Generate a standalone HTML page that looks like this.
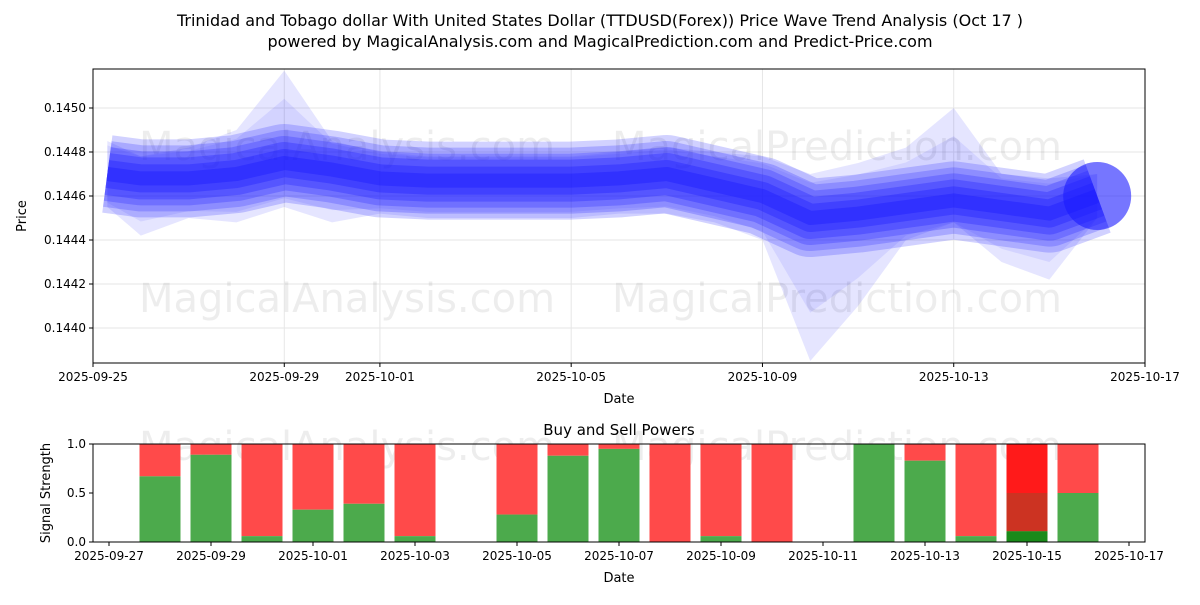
<!DOCTYPE html>
<html><head><meta charset="utf-8"><style>
body{margin:0;background:#fff;font-family:"Liberation Sans","DejaVu Sans",sans-serif}
svg text{font-family:"DejaVu Sans","Liberation Sans",sans-serif}
</style></head><body>
<svg id="c" width="1200" height="600" xmlns="http://www.w3.org/2000/svg">
<text x="600" y="26" text-anchor="middle" font-size="16">Trinidad and Tobago dollar With United States Dollar (TTDUSD(Forex)) Price Wave Trend Analysis (Oct 17 )</text>
<text x="600" y="47" text-anchor="middle" font-size="16">powered by MagicalAnalysis.com and MagicalPrediction.com and Predict-Price.com</text>
<g id="topg"></g><g id="botg"></g>
</svg>
<script>
// ---- top chart data ----
const priceDays=[0.3,1,2,3,4,5,6,7,8,9,10,11,12,13,14,15,16,17,18,19,20,21];
const priceMid=[0.14470,0.14468,0.14468,0.14470,0.14475,0.14472,0.14468,0.14467,0.14467,0.14467,0.14467,0.14468,0.14470,0.14465,0.14460,0.14450,0.14452,0.14455,0.14458,0.14455,0.14452,0.14460];
const priceHi=[0.14485,0.14478,0.14482,0.14490,0.14517,0.14485,0.14480,0.14478,0.14478,0.14478,0.14478,0.14480,0.14482,0.14480,0.14478,0.14470,0.14475,0.14482,0.14500,0.14470,0.14468,0.14470];
const priceLo=[0.14455,0.14442,0.14450,0.14448,0.14455,0.14448,0.14452,0.14450,0.14450,0.14450,0.14450,0.14452,0.14452,0.14448,0.14440,0.14385,0.14410,0.14440,0.14448,0.14430,0.14422,0.14450];
const priceTicks=[0.1440,0.1442,0.1444,0.1446,0.1448,0.1450];
const topXTicks=["2025-09-25","2025-09-29","2025-10-01","2025-10-05","2025-10-09","2025-10-13","2025-10-17"];
const topXTickDays=[0,4,6,10,14,18,22];
// ---- bottom chart data ----
const powDays=[1,2,3,4,5,6,8,9,10,11,12,13,15,16,17,18,19];
const buyPow=[0.67,0.89,0.06,0.33,0.39,0.06,0.28,0.88,0.95,0,0.06,0,1.0,0.83,0.06,0.11,0.5];
const botXTicks=["2025-09-27","2025-09-29","2025-10-01","2025-10-03","2025-10-05","2025-10-07","2025-10-09","2025-10-11","2025-10-13","2025-10-15","2025-10-17"];
const botXTickDays=[0,2,4,6,8,10,12,14,16,18,20];
const sigTicks=[0,0.5,1.0];

const NS="http://www.w3.org/2000/svg";
function mk(p,t,a,txt){const e=document.createElementNS(NS,t);for(const k in a)e.setAttribute(k,a[k]);if(txt!==undefined)e.textContent=txt;p.appendChild(e);return e;}
const topG=document.getElementById('topg'),botG=document.getElementById('botg');
const L=93,R=1145,T=69,B=363;
const xT=d=>L+(R-L)*d/22;
const yT=v=>108+(0.1450-v)*220000;
for(let i=0;i<priceTicks.length;i++){const y=yT(priceTicks[i]);
 const g=mk(topG,'line',{x1:L,x2:R,y1:y,y2:y,stroke:'#e6e6e6'});
 
 mk(topG,'line',{x1:L-4,x2:L,y1:y,y2:y,stroke:'#000'});
 const t=mk(topG,'text',{x:L-7,y:y+4,'text-anchor':'end','font-size':12},priceTicks[i].toFixed(4));
 }
for(let i=0;i<topXTicks.length;i++){const x=xT(topXTickDays[i]);
 mk(topG,'line',{x1:x,x2:x,y1:T,y2:B,stroke:'#e6e6e6'});
 mk(topG,'line',{x1:x,x2:x,y1:B,y2:B+4,stroke:'#000'});
 const t=mk(topG,'text',{x:x,y:B+18,'text-anchor':'middle','font-size':12},topXTicks[i]);
 }
[[347,160],[837,160],[347,312],[837,312],[347,460],[837,460]].forEach(p=>{const w=mk(topG,'text',{x:p[0],y:p[1],'text-anchor':'middle','font-size':40,fill:'#000','fill-opacity':0.07},p[0]<600?'MagicalAnalysis.com':'MagicalPrediction.com');
 });
let pts=priceDays.map((d,i)=>xT(d)+','+yT(priceHi[i]));
pts=pts.concat(priceDays.map((d,i)=>xT(d)+','+yT(priceLo[i])).reverse());
const env=mk(topG,'polygon',{points:pts.join(' '),fill:'#0000ff','fill-opacity':0.1});

let pts2=priceDays.map((d,i)=>xT(d)+','+yT(priceMid[i]+(priceHi[i]-priceMid[i])*0.6+0.00004));
pts2=pts2.concat(priceDays.map((d,i)=>xT(d)+','+yT(priceMid[i]-(priceMid[i]-priceLo[i])*0.6-0.00004)).reverse());
const env2=mk(topG,'polygon',{points:pts2.join(' '),fill:'#0000ff','fill-opacity':0.08});

const mid=priceDays.map((d,i)=>xT(d)+','+yT(priceMid[i])).join(' ');
[[78,0.2],[66,0.22],[54,0.25],[42,0.3],[28,0.35],[14,0.4]].forEach(s=>{
 const pl=mk(topG,'polyline',{points:mid,fill:'none',stroke:'#1a1aff','stroke-width':s[0],'stroke-opacity':s[1],'stroke-linejoin':'round','stroke-linecap':'butt'});
 });
const nLast=priceDays.length-1;
const endC=mk(topG,'circle',{cx:xT(priceDays[nLast]),cy:yT(priceMid[nLast]),r:34,fill:'#1a1aff','fill-opacity':0.6});

mk(topG,'rect',{x:L,y:T,width:R-L,height:B-T,fill:'none',stroke:'#000'});
const yl=mk(topG,'text',{x:26,y:(T+B)/2,'text-anchor':'middle','font-size':13,transform:`rotate(-90 26 ${(T+B)/2})`},'Price');

const xl=mk(topG,'text',{x:619,y:403,'text-anchor':'middle','font-size':13},'Date');

const BT=444,BB=542;
const xB=d=>109+51*d;
const yB=v=>BB-(BB-BT)*v;
const bt=mk(botG,'text',{x:619,y:435,'text-anchor':'middle','font-size':15},'Buy and Sell Powers');

for(let i=0;i<powDays.length;i++){const x=xB(powDays[i])-20.5,b=buyPow[i];
 const special=powDays[i]===18;
 const r=mk(botG,'rect',{x:x,y:BT,width:41,height:yB(b)-BT,fill:special?'#ff1a1a':'#ff4a4a'});
 
 if(special){const r2=mk(botG,'rect',{x:x,y:yB(0.5),width:41,height:yB(b)-yB(0.5),fill:'#cc3322'});
  }
 const g=mk(botG,'rect',{x:x,y:yB(b),width:41,height:BB-yB(b),fill:special?'#1a8a1a':'#4caa4c'});
 }
for(let i=0;i<sigTicks.length;i++){const y=yB(sigTicks[i]);
 mk(botG,'line',{x1:L-4,x2:L,y1:y,y2:y,stroke:'#000'});
 const t=mk(botG,'text',{x:L-7,y:y+4,'text-anchor':'end','font-size':12},sigTicks[i].toFixed(1));
 }
for(let i=0;i<botXTicks.length;i++){const x=xB(botXTickDays[i]);
 mk(botG,'line',{x1:x,x2:x,y1:BB,y2:BB+4,stroke:'#000'});
 const t=mk(botG,'text',{x:x,y:BB+18,'text-anchor':'middle','font-size':12},botXTicks[i]);
 }
mk(botG,'rect',{x:L,y:BT,width:R-L,height:BB-BT,fill:'none',stroke:'#000'});
const yl2=mk(botG,'text',{x:50,y:493,'text-anchor':'middle','font-size':13,transform:'rotate(-90 50 493)'},'Signal Strength');

const xl2=mk(botG,'text',{x:619,y:582,'text-anchor':'middle','font-size':13},'Date');

</script>
</body></html>
